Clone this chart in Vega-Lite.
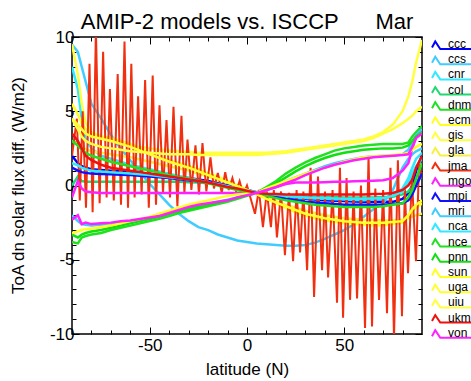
{
 "$schema": "https://vega.github.io/schema/vega-lite/v6.json",
 "width": 350, "height": 297,
 "autosize": {"type": "none"},
 "padding": {"left": 72, "top": 37, "right": 49, "bottom": 47},
 "title": {"text": "AMIP-2 models vs. ISCCP\u00a0\u00a0\u00a0\u00a0\u00a0\u00a0Mar", "fontSize": 22, "font": "Liberation Sans", "fontWeight": "normal", "anchor": "middle", "offset": -6, "color": "black"},
 "datasets": {
  "wide": [
   {"lat":-90,"ccc":2.0,"ccs":9.5,"cnr":8.0,"col":0.0,"dnm":-3.8,"ecm":5.5,"gis":9.5,"gla":3.0,"mgo":-0.8,"mpi":1.2,"mri":-2.0,"nca":1.5,"nce":3.0,"pnn":-3.3,"sun":-3.2,"uga":4.5,"uiu":4.5,"ukm":3.5,"von":-2.3},
   {"lat":-87,"ccc":1.5,"ccs":9.0,"cnr":6.5,"col":0.6,"dnm":-3.9,"ecm":4.8,"gis":7.5,"gla":2.8,"mgo":0.3,"mpi":1.0,"mri":-2.4,"nca":1.35,"nce":2.7,"pnn":-3.5,"sun":-3.1,"uga":4.1,"uiu":3.8,"ukm":3.0,"von":-2.0},
   {"lat":-85,"ccc":1.3,"ccs":8.0,"cnr":4.5,"col":0.3,"dnm":-3.5,"ecm":4.2,"gis":5.5,"gla":2.6,"mgo":-0.2,"mpi":0.9,"mri":-2.6,"nca":1.2,"nce":2.4,"pnn":-3.3,"sun":-3.0,"uga":3.8,"uiu":3.3,"ukm":2.5,"von":-2.6},
   {"lat":-83,"ccc":1.2,"ccs":7.0,"cnr":3.2,"col":0.25,"dnm":-3.4,"ecm":3.8,"gis":4.2,"gla":2.45,"mgo":-0.4,"mpi":0.85,"mri":-2.65,"nca":1.1,"nce":2.2,"pnn":-3.2,"sun":-2.95,"uga":3.5,"uiu":3.0,"ukm":2.0,"von":-2.5},
   {"lat":-80,"ccc":1.1,"ccs":5.5,"cnr":2.5,"col":0.25,"dnm":-3.3,"ecm":3.5,"gis":3.6,"gla":2.3,"mgo":-0.45,"mpi":0.8,"mri":-2.7,"nca":1.0,"nce":2.0,"pnn":-3.1,"sun":-2.9,"uga":3.3,"uiu":2.8,"ukm":1.7,"von":-2.6},
   {"lat":-75,"ccc":1.05,"ccs":4.5,"cnr":2.0,"col":0.25,"dnm":-3.2,"ecm":3.3,"gis":3.3,"gla":2.2,"mgo":-0.5,"mpi":0.78,"mri":-2.65,"nca":0.95,"nce":1.8,"pnn":-3.0,"sun":-2.8,"uga":3.15,"uiu":2.6,"ukm":1.4,"von":-2.55},
   {"lat":-70,"ccc":1.0,"ccs":3.4,"cnr":1.8,"col":0.25,"dnm":-3.0,"ecm":3.2,"gis":3.1,"gla":2.1,"mgo":-0.5,"mpi":0.75,"mri":-2.6,"nca":0.9,"nce":1.6,"pnn":-2.85,"sun":-2.7,"uga":3.0,"uiu":2.5,"ukm":1.2,"von":-2.5},
   {"lat":-65,"ccc":0.95,"ccs":2.5,"cnr":1.6,"col":0.25,"dnm":-2.85,"ecm":3.0,"gis":2.9,"gla":2.0,"mgo":-0.5,"mpi":0.72,"mri":-2.52,"nca":0.85,"nce":1.45,"pnn":-2.7,"sun":-2.55,"uga":2.8,"uiu":2.4,"ukm":1.1,"von":-2.4},
   {"lat":-60,"ccc":0.9,"ccs":1.7,"cnr":1.4,"col":0.25,"dnm":-2.7,"ecm":2.8,"gis":2.7,"gla":1.9,"mgo":-0.5,"mpi":0.7,"mri":-2.45,"nca":0.8,"nce":1.3,"pnn":-2.55,"sun":-2.4,"uga":2.6,"uiu":2.3,"ukm":1.0,"von":-2.35},
   {"lat":-55,"ccc":0.85,"ccs":0.9,"cnr":1.25,"col":0.25,"dnm":-2.55,"ecm":2.5,"gis":2.6,"gla":1.75,"mgo":-0.5,"mpi":0.65,"mri":-2.32,"nca":0.75,"nce":1.15,"pnn":-2.4,"sun":-2.25,"uga":2.35,"uiu":2.25,"ukm":0.9,"von":-2.25},
   {"lat":-50,"ccc":0.8,"ccs":0.1,"cnr":1.1,"col":0.25,"dnm":-2.4,"ecm":2.2,"gis":2.5,"gla":1.6,"mgo":-0.5,"mpi":0.6,"mri":-2.2,"nca":0.7,"nce":1.0,"pnn":-2.25,"sun":-2.1,"uga":2.1,"uiu":2.2,"ukm":0.8,"von":-2.15},
   {"lat":-45,"ccc":0.72,"ccs":-0.6,"cnr":0.95,"col":0.25,"dnm":-2.25,"ecm":1.9,"gis":2.4,"gla":1.45,"mgo":-0.5,"mpi":0.55,"mri":-2.05,"nca":0.62,"nce":0.85,"pnn":-2.1,"sun":-1.9,"uga":1.85,"uiu":2.15,"ukm":0.7,"von":-2.05},
   {"lat":-40,"ccc":0.65,"ccs":-1.3,"cnr":0.8,"col":0.25,"dnm":-2.05,"ecm":1.7,"gis":2.35,"gla":1.3,"mgo":-0.5,"mpi":0.5,"mri":-1.9,"nca":0.55,"nce":0.7,"pnn":-1.9,"sun":-1.7,"uga":1.6,"uiu":2.1,"ukm":0.6,"von":-1.85},
   {"lat":-35,"ccc":0.58,"ccs":-1.9,"cnr":0.65,"col":0.25,"dnm":-1.85,"ecm":1.5,"gis":2.3,"gla":1.15,"mgo":-0.5,"mpi":0.42,"mri":-1.72,"nca":0.48,"nce":0.55,"pnn":-1.75,"sun":-1.5,"uga":1.4,"uiu":2.1,"ukm":0.5,"von":-1.65},
   {"lat":-30,"ccc":0.5,"ccs":-2.4,"cnr":0.5,"col":0.22,"dnm":-1.7,"ecm":1.3,"gis":2.25,"gla":1.0,"mgo":-0.5,"mpi":0.35,"mri":-1.55,"nca":0.4,"nce":0.45,"pnn":-1.6,"sun":-1.3,"uga":1.2,"uiu":2.1,"ukm":0.4,"von":-1.45},
   {"lat":-25,"ccc":0.4,"ccs":-2.8,"cnr":0.35,"col":0.2,"dnm":-1.55,"ecm":1.1,"gis":2.2,"gla":0.8,"mgo":-0.5,"mpi":0.28,"mri":-1.4,"nca":0.3,"nce":0.3,"pnn":-1.45,"sun":-1.15,"uga":0.95,"uiu":2.05,"ukm":0.3,"von":-1.3},
   {"lat":-20,"ccc":0.3,"ccs":-3.0,"cnr":0.2,"col":0.15,"dnm":-1.4,"ecm":0.8,"gis":2.2,"gla":0.6,"mgo":-0.5,"mpi":0.2,"mri":-1.25,"nca":0.2,"nce":0.15,"pnn":-1.3,"sun":-1.0,"uga":0.7,"uiu":2.05,"ukm":0.2,"von":-1.2},
   {"lat":-15,"ccc":0.15,"ccs":-3.3,"cnr":0.05,"col":0.1,"dnm":-1.25,"ecm":0.6,"gis":2.2,"gla":0.4,"mgo":-0.5,"mpi":0.1,"mri":-1.1,"nca":0.08,"nce":0.0,"pnn":-1.15,"sun":-0.85,"uga":0.45,"uiu":2.05,"ukm":0.05,"von":-1.1},
   {"lat":-10,"ccc":0.0,"ccs":-3.5,"cnr":-0.1,"col":0.0,"dnm":-1.1,"ecm":0.3,"gis":2.2,"gla":0.2,"mgo":-0.5,"mpi":0.0,"mri":-0.95,"nca":-0.05,"nce":-0.15,"pnn":-1.0,"sun":-0.7,"uga":0.2,"uiu":2.05,"ukm":-0.1,"von":-1.0},
   {"lat":-5,"ccc":-0.15,"ccs":-3.7,"cnr":-0.22,"col":-0.15,"dnm":-0.9,"ecm":0.0,"gis":2.2,"gla":-0.05,"mgo":-0.5,"mpi":-0.15,"mri":-0.8,"nca":-0.18,"nce":-0.3,"pnn":-0.85,"sun":-0.6,"uga":-0.05,"uiu":2.05,"ukm":-0.2,"von":-0.8},
   {"lat":0,"ccc":-0.3,"ccs":-3.8,"cnr":-0.35,"col":-0.3,"dnm":-0.7,"ecm":-0.3,"gis":2.2,"gla":-0.3,"mgo":-0.5,"mpi":-0.3,"mri":-0.65,"nca":-0.3,"nce":-0.45,"pnn":-0.65,"sun":-0.55,"uga":-0.3,"uiu":2.05,"ukm":-0.35,"von":-0.65},
   {"lat":5,"ccc":-0.5,"ccs":-3.9,"cnr":-0.5,"col":-0.5,"dnm":-0.5,"ecm":-0.6,"gis":2.2,"gla":-0.55,"mgo":-0.5,"mpi":-0.45,"mri":-0.5,"nca":-0.45,"nce":-0.55,"pnn":-0.5,"sun":-0.5,"uga":-0.6,"uiu":2.05,"ukm":-0.5,"von":-0.5},
   {"lat":10,"ccc":-0.65,"ccs":-3.95,"cnr":-0.6,"col":-0.6,"dnm":-0.1,"ecm":-0.9,"gis":2.2,"gla":-0.8,"mgo":-0.3,"mpi":-0.6,"mri":-0.3,"nca":-0.55,"nce":-0.7,"pnn":-0.2,"sun":-0.2,"uga":-0.9,"uiu":2.1,"ukm":-0.55,"von":-0.3},
   {"lat":15,"ccc":-0.72,"ccs":-4.0,"cnr":-0.68,"col":-0.65,"dnm":0.3,"ecm":-1.2,"gis":2.25,"gla":-1.05,"mgo":-0.1,"mpi":-0.75,"mri":0.0,"nca":-0.62,"nce":-0.85,"pnn":0.15,"sun":0.05,"uga":-1.15,"uiu":2.15,"ukm":-0.58,"von":-0.1},
   {"lat":20,"ccc":-0.8,"ccs":-4.05,"cnr":-0.75,"col":-0.7,"dnm":0.8,"ecm":-1.5,"gis":2.3,"gla":-1.3,"mgo":0.1,"mpi":-0.9,"mri":0.3,"nca":-0.7,"nce":-1.0,"pnn":0.55,"sun":0.3,"uga":-1.4,"uiu":2.2,"ukm":-0.6,"von":0.15},
   {"lat":25,"ccc":-0.85,"ccs":-4.05,"cnr":-0.8,"col":-0.7,"dnm":1.2,"ecm":-1.8,"gis":2.4,"gla":-1.5,"mgo":0.2,"mpi":-1.0,"mri":0.55,"nca":-0.75,"nce":-1.1,"pnn":0.95,"sun":0.55,"uga":-1.65,"uiu":2.3,"ukm":-0.6,"von":0.4},
   {"lat":30,"ccc":-0.9,"ccs":-4.0,"cnr":-0.85,"col":-0.72,"dnm":1.55,"ecm":-2.0,"gis":2.5,"gla":-1.7,"mgo":0.2,"mpi":-1.1,"mri":0.8,"nca":-0.8,"nce":-1.2,"pnn":1.3,"sun":0.8,"uga":-1.9,"uiu":2.4,"ukm":-0.6,"von":0.7},
   {"lat":35,"ccc":-0.95,"ccs":-3.85,"cnr":-0.88,"col":-0.75,"dnm":1.85,"ecm":-2.2,"gis":2.6,"gla":-1.85,"mgo":0.2,"mpi":-1.15,"mri":1.05,"nca":-0.82,"nce":-1.3,"pnn":1.6,"sun":1.0,"uga":-2.05,"uiu":2.5,"ukm":-0.6,"von":0.95},
   {"lat":40,"ccc":-1.0,"ccs":-3.6,"cnr":-0.9,"col":-0.75,"dnm":2.1,"ecm":-2.35,"gis":2.7,"gla":-2.0,"mgo":0.22,"mpi":-1.2,"mri":1.3,"nca":-0.85,"nce":-1.35,"pnn":1.85,"sun":1.2,"uga":-2.2,"uiu":2.6,"ukm":-0.6,"von":1.2},
   {"lat":45,"ccc":-1.02,"ccs":-3.3,"cnr":-0.92,"col":-0.78,"dnm":2.35,"ecm":-2.45,"gis":2.8,"gla":-2.1,"mgo":0.25,"mpi":-1.25,"mri":1.5,"nca":-0.88,"nce":-1.4,"pnn":2.05,"sun":1.4,"uga":-2.3,"uiu":2.7,"ukm":-0.6,"von":1.4},
   {"lat":50,"ccc":-1.05,"ccs":-3.0,"cnr":-0.95,"col":-0.8,"dnm":2.5,"ecm":-2.55,"gis":2.9,"gla":-2.2,"mgo":0.25,"mpi":-1.3,"mri":1.65,"nca":-0.9,"nce":-1.45,"pnn":2.2,"sun":1.6,"uga":-2.4,"uiu":2.8,"ukm":-0.6,"von":1.55},
   {"lat":55,"ccc":-1.08,"ccs":-2.6,"cnr":-0.98,"col":-0.8,"dnm":2.6,"ecm":-2.6,"gis":3.0,"gla":-2.25,"mgo":0.28,"mpi":-1.3,"mri":1.78,"nca":-0.9,"nce":-1.45,"pnn":2.3,"sun":1.75,"uga":-2.45,"uiu":2.9,"ukm":-0.6,"von":1.7},
   {"lat":60,"ccc":-1.1,"ccs":-2.1,"cnr":-1.0,"col":-0.8,"dnm":2.7,"ecm":-2.65,"gis":3.1,"gla":-2.3,"mgo":0.3,"mpi":-1.3,"mri":1.9,"nca":-0.9,"nce":-1.45,"pnn":2.4,"sun":1.9,"uga":-2.5,"uiu":3.0,"ukm":-0.6,"von":1.8},
   {"lat":65,"ccc":-1.1,"ccs":-1.6,"cnr":-0.95,"col":-0.8,"dnm":2.75,"ecm":-2.7,"gis":3.3,"gla":-2.32,"mgo":0.32,"mpi":-1.3,"mri":1.95,"nca":-0.88,"nce":-1.45,"pnn":2.45,"sun":1.95,"uga":-2.5,"uiu":3.2,"ukm":-0.58,"von":1.9},
   {"lat":70,"ccc":-1.1,"ccs":-1.2,"cnr":-0.9,"col":-0.78,"dnm":2.8,"ecm":-2.7,"gis":3.6,"gla":-2.35,"mgo":0.35,"mpi":-1.3,"mri":2.0,"nca":-0.85,"nce":-1.4,"pnn":2.5,"sun":2.0,"uga":-2.5,"uiu":3.5,"ukm":-0.55,"von":1.95},
   {"lat":75,"ccc":-1.1,"ccs":-0.3,"cnr":-0.7,"col":-0.75,"dnm":2.8,"ecm":-2.6,"gis":4.1,"gla":-2.35,"mgo":0.5,"mpi":-1.25,"mri":2.0,"nca":-0.7,"nce":-1.3,"pnn":2.5,"sun":2.05,"uga":-2.45,"uiu":3.8,"ukm":-0.5,"von":2.0},
   {"lat":80,"ccc":-0.9,"ccs":1.2,"cnr":-0.2,"col":-0.6,"dnm":2.8,"ecm":-2.5,"gis":5.0,"gla":-2.3,"mgo":1.0,"mpi":-1.2,"mri":2.1,"nca":-0.4,"nce":-1.2,"pnn":2.55,"sun":2.1,"uga":-2.4,"uiu":4.2,"ukm":-0.3,"von":2.05},
   {"lat":83,"ccc":-0.5,"ccs":1.8,"cnr":0.5,"col":-0.4,"dnm":2.9,"ecm":-2.2,"gis":6.0,"gla":-2.2,"mgo":1.5,"mpi":-1.0,"mri":2.4,"nca":0.2,"nce":-0.8,"pnn":2.7,"sun":2.2,"uga":-2.0,"uiu":4.5,"ukm":0.0,"von":2.1},
   {"lat":85,"ccc":0.0,"ccs":2.1,"cnr":1.2,"col":-0.1,"dnm":3.3,"ecm":-1.8,"gis":7.0,"gla":-2.1,"mgo":2.5,"mpi":-0.6,"mri":2.9,"nca":0.8,"nce":-0.3,"pnn":3.0,"sun":2.4,"uga":-1.6,"uiu":4.7,"ukm":0.4,"von":2.6},
   {"lat":87,"ccc":1.0,"ccs":2.3,"cnr":1.8,"col":0.3,"dnm":3.6,"ecm":-1.5,"gis":8.3,"gla":-2.0,"mgo":3.3,"mpi":0.0,"mri":3.4,"nca":1.3,"nce":0.5,"pnn":3.3,"sun":2.6,"uga":-1.3,"uiu":5.0,"ukm":1.2,"von":3.2},
   {"lat":90,"ccc":2.0,"ccs":2.5,"cnr":2.2,"col":0.6,"dnm":4.0,"ecm":-1.2,"gis":9.8,"gla":-1.9,"mgo":3.8,"mpi":0.8,"mri":3.8,"nca":1.8,"nce":1.5,"pnn":3.6,"sun":2.8,"uga":-1.0,"uiu":5.3,"ukm":2.0,"von":3.5}
  ],
  "jma": [
   {"lat":-90,"v":2.0},{"lat":-87.5,"v":4.5},{"lat":-86,"v":-1.0},{"lat":-84.5,"v":5.0},{"lat":-82.8,"v":-1.5},{"lat":-81,"v":8.2},{"lat":-79.4,"v":-1.8},{"lat":-77.7,"v":10.5},{"lat":-75.8,"v":-1.2},{"lat":-74,"v":9.0},{"lat":-72.2,"v":-0.8},{"lat":-70.5,"v":6.5},{"lat":-68.5,"v":-1.0},{"lat":-66.5,"v":7.5},{"lat":-64.8,"v":-1.3},{"lat":-63,"v":9.7},{"lat":-61.2,"v":-1.5},{"lat":-59.5,"v":8.2},{"lat":-57.8,"v":-0.8},{"lat":-56,"v":6.0},{"lat":-54.2,"v":-0.6},{"lat":-52.4,"v":7.1},{"lat":-50.5,"v":-1.5},{"lat":-48.5,"v":7.4},{"lat":-46.8,"v":-1.3},{"lat":-45,"v":5.4},{"lat":-43.2,"v":-0.5},{"lat":-41.4,"v":4.4},{"lat":-39.6,"v":-0.8},{"lat":-37.8,"v":5.3},{"lat":-35.8,"v":-1.4},{"lat":-33.7,"v":4.7},{"lat":-32.2,"v":-0.5},{"lat":-30.6,"v":3.1},{"lat":-28.6,"v":-0.3},{"lat":-26.5,"v":2.7},{"lat":-24.7,"v":-0.6},{"lat":-22.9,"v":2.85},{"lat":-20.9,"v":-0.4},{"lat":-18.8,"v":1.9},{"lat":-17,"v":-0.2},{"lat":-15,"v":0.85},{"lat":-13,"v":-0.5},{"lat":-11.2,"v":0.9},{"lat":-9.4,"v":-0.3},{"lat":-7.5,"v":0.5},{"lat":-5.6,"v":-0.4},{"lat":-3.8,"v":0.3},{"lat":-1.9,"v":-0.6},
   {"lat":0,"v":0.0},{"lat":4.1,"v":-1.9},{"lat":6.1,"v":-0.3},{"lat":8.2,"v":-2.8},{"lat":10.2,"v":-0.4},{"lat":12.3,"v":-2.8},{"lat":13.8,"v":-0.3},{"lat":15.4,"v":-3.5},{"lat":17.5,"v":-0.4},{"lat":19.5,"v":-4.7},{"lat":21.6,"v":-0.5},{"lat":23.7,"v":-5.1},{"lat":25.5,"v":-0.3},{"lat":27.3,"v":-4.5},{"lat":29,"v":-0.4},{"lat":30.9,"v":-5.7},{"lat":32.7,"v":1.2},{"lat":34.5,"v":-7.5},{"lat":36.5,"v":0.6},{"lat":38.6,"v":-5.7},{"lat":40.1,"v":-0.4},{"lat":41.7,"v":-6.2},{"lat":44,"v":-0.3},{"lat":46.3,"v":-7.9},{"lat":47.8,"v":1.2},{"lat":49.4,"v":-8.9},{"lat":51.2,"v":0.5},{"lat":53,"v":-7.7},{"lat":54.8,"v":-0.4},{"lat":56.6,"v":-7.6},{"lat":58.6,"v":0.0},{"lat":60.7,"v":-9.6},{"lat":62.5,"v":2.0},{"lat":64.3,"v":-9.5},{"lat":66,"v":-0.2},{"lat":67.9,"v":-7.7},{"lat":70,"v":-0.3},{"lat":72,"v":-8.6},{"lat":73.8,"v":1.2},{"lat":75.6,"v":-10.3},{"lat":77.6,"v":1.7},{"lat":79.7,"v":-8.8},{"lat":81.2,"v":-0.2},{"lat":82.8,"v":-5.9},{"lat":84.8,"v":0.5},{"lat":86.9,"v":-5.1},{"lat":88.5,"v":1.5},{"lat":90,"v":0.5}
  ]
 },
 "layer": [
  {
   "data": {"name": "wide"},
   "transform": [{"fold": ["ccc","ccs","cnr","col","dnm","ecm","gis","gla"], "as": ["model","v"]}],
   "mark": {"type": "line", "strokeWidth": 2.5, "clip": true},
   "encoding": {
    "x": {"field": "lat", "type": "quantitative", "scale": {"domain": [-90, 90], "nice": false, "zero": false},
     "axis": {"orient": "bottom", "values": [-80,-70,-60,-50,-40,-30,-20,-10,0,10,20,30,40,50,60,70,80],
      "labelExpr": "datum.value % 50 === 0 ? '' + datum.value : ''", "labelOverlap": false, "labelFlush": false,
      "tickSize": {"condition": {"test": "datum.value % 50 === 0", "value": -7}, "value": -4},
      "labelPadding": 10, "title": "latitude (N)", "titleY": 40, "titleBaseline": "alphabetic"}},
    "y": {"field": "v", "type": "quantitative", "scale": {"domain": [-10, 10], "nice": false},
     "axis": {"orient": "left", "values": [-10,-9,-8,-7,-6,-5,-4,-3,-2,-1,0,1,2,3,4,5,6,7,8,9,10],
      "labelExpr": "datum.value % 5 === 0 ? '' + datum.value : ''", "labelOverlap": false, "labelFlush": false,
      "tickSize": {"condition": {"test": "datum.value % 5 === 0", "value": -7}, "value": -4},
      "labelPadding": 5, "title": "ToA dn solar flux diff. (W/m2)", "titleX": -54, "titleY": 148, "titleBaseline": "middle"}},
    "color": {"field": "model", "type": "nominal",
     "scale": {"domain": ["ccc","ccs","cnr","col","dnm","ecm","gis","gla","jma","mgo","mpi","mri","nca","nce","pnn","sun","uga","uiu","ukm","von"],
      "range": ["#0000ff","#40ccff","#30e8ff","#20d870","#20e020","#ffff20","#ffff40","#f8f040","#f03010","#ff20ff","#1010ff","#40ccff","#30e8ff","#20e020","#10e010","#ffff20","#ffff30","#ffff40","#ee1010","#ff20ff"]},
     "legend": {"orient": "none", "legendX": 358, "legendY": 1, "title": null,
      "symbolType": "M-0.8,0.7L-0.15,-0.5L0.85,1L7.5,1", "symbolSize": 100, "symbolStrokeWidth": 2, "symbolFillColor": "transparent",
      "labelFontSize": 12, "labelFont": "Liberation Sans", "labelColor": "black", "labelOffset": 6, "rowPadding": -0.8}}
   }
  },
  {
   "data": {"name": "jma"},
   "mark": {"type": "line", "strokeWidth": 2, "clip": true},
   "encoding": {
    "x": {"field": "lat", "type": "quantitative",
     "axis": {"orient": "top", "values": [-80,-70,-60,-50,-40,-30,-20,-10,0,10,20,30,40,50,60,70,80], "labels": false, "title": null,
      "tickSize": {"condition": {"test": "datum.value % 50 === 0", "value": -7}, "value": -4}}},
    "y": {"field": "v", "type": "quantitative",
     "axis": {"orient": "right", "values": [-10,-9,-8,-7,-6,-5,-4,-3,-2,-1,0,1,2,3,4,5,6,7,8,9,10], "labels": false, "title": null,
      "tickSize": {"condition": {"test": "datum.value % 5 === 0", "value": -7}, "value": -4}}},
    "color": {"datum": "jma"}
   }
  },
  {
   "data": {"name": "wide"},
   "transform": [{"fold": ["mgo","mpi","mri","nca","nce","pnn","sun","uga","uiu","ukm","von"], "as": ["model","v"]}],
   "mark": {"type": "line", "strokeWidth": 2.5, "clip": true},
   "encoding": {
    "x": {"field": "lat", "type": "quantitative", "axis": null},
    "y": {"field": "v", "type": "quantitative", "axis": null},
    "color": {"field": "model", "type": "nominal"}
   }
  }
 ],
 "resolve": {"axis": {"x": "independent", "y": "independent"}},
 "config": {
  "font": "Liberation Sans",
  "view": {"stroke": "black", "strokeWidth": 1.5},
  "axis": {"domain": false, "grid": false, "tickColor": "black", "tickWidth": 1, "labelColor": "black", "labelFont": "Liberation Sans", "labelFontSize": 17,
   "titleFont": "Liberation Sans", "titleFontSize": 17, "titleFontWeight": "normal", "titleColor": "black"}
 }
}
